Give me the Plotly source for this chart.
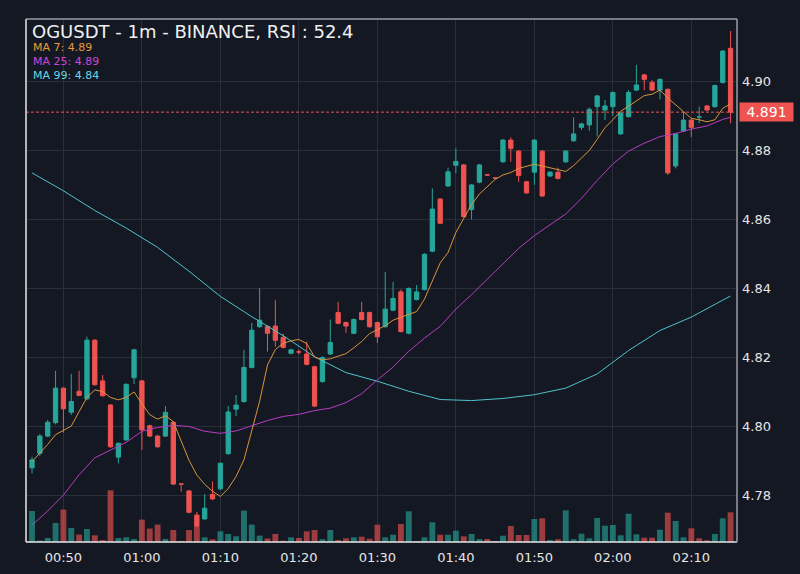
import plotly.graph_objects as go
import pandas as pd

times = pd.date_range("2024-01-01 00:46", periods=90, freq="1min")

opens = [4.7879, 4.7921, 4.7971, 4.8010, 4.8110, 4.8040, 4.8101, 4.8079, 4.8249, 4.8131,
         4.8061, 4.7910, 4.7960, 4.8140, 4.8131, 4.8001, 4.7971, 4.7971, 4.8011, 4.7832,
         4.7812, 4.7742, 4.7731, 4.7802, 4.7818, 4.7920, 4.8049, 4.8071, 4.8170, 4.8288,
         4.8289, 4.8290, 4.8257, 4.8211, 4.8215, 4.8209, 4.8172, 4.8129, 4.8209, 4.8329,
         4.8300, 4.8269, 4.8329, 4.8329, 4.8300, 4.8288, 4.8336, 4.8389, 4.8269, 4.8367,
         4.8396, 4.8507, 4.8658, 4.8696, 4.8756, 4.8757, 4.8628, 4.8707, 4.8728, 4.8719,
         4.8766, 4.8829, 4.8797, 4.8708, 4.8736, 4.8797, 4.8725, 4.8736, 4.8766, 4.8827,
         4.8866, 4.8873, 4.8926, 4.8916, 4.8926, 4.8847, 4.8897, 4.8974, 4.9018, 4.8996,
         4.8974, 4.8976, 4.8754, 4.8855, 4.8887, 4.8896, 4.8928, 4.8926, 4.8996, 4.9095]
highs = [4.7911, 4.7977, 4.8018, 4.8160, 4.8112, 4.8151, 4.8160, 4.8259, 4.8252, 4.8148,
         4.8064, 4.7953, 4.8124, 4.8224, 4.8134, 4.8004, 4.7974, 4.8058, 4.8014, 4.7833,
         4.7815, 4.7751, 4.7803, 4.7839, 4.7895, 4.8058, 4.8090, 4.8221, 4.8299, 4.8400,
         4.8292, 4.8365, 4.8268, 4.8224, 4.8222, 4.8245, 4.8175, 4.8202, 4.8309, 4.8360,
         4.8303, 4.8312, 4.8360, 4.8332, 4.8303, 4.8447, 4.8418, 4.8396, 4.8402, 4.8409,
         4.8501, 4.8689, 4.8661, 4.8749, 4.8805, 4.8760, 4.8702, 4.8760, 4.8730, 4.8721,
         4.8832, 4.8837, 4.8800, 4.8711, 4.8832, 4.8800, 4.8739, 4.8749, 4.8800, 4.8895,
         4.8879, 4.8924, 4.8960, 4.8945, 4.8970, 4.8910, 4.8974, 4.9047, 4.9021, 4.9003,
         4.9008, 4.8979, 4.8850, 4.8911, 4.8890, 4.8926, 4.8931, 4.8990, 4.9090, 4.9145]
lows = [4.7863, 4.7913, 4.7968, 4.8005, 4.7981, 4.8032, 4.8087, 4.8075, 4.8117, 4.8085,
        4.7937, 4.7892, 4.7957, 4.8122, 4.7931, 4.7968, 4.7937, 4.7968, 4.7829, 4.7810,
        4.7747, 4.7707, 4.7728, 4.7786, 4.7815, 4.7917, 4.8029, 4.8068, 4.8167, 4.8285,
        4.8216, 4.8230, 4.8225, 4.8208, 4.8208, 4.8176, 4.8055, 4.8126, 4.8206, 4.8295,
        4.8270, 4.8266, 4.8306, 4.8285, 4.8241, 4.8285, 4.8333, 4.8271, 4.8266, 4.8364,
        4.8393, 4.8504, 4.8585, 4.8693, 4.8733, 4.8604, 4.8599, 4.8704, 4.8726, 4.8717,
        4.8763, 4.8766, 4.8708, 4.8673, 4.8699, 4.8664, 4.8722, 4.8715, 4.8763, 4.8824,
        4.8858, 4.8856, 4.8839, 4.8887, 4.8899, 4.8844, 4.8894, 4.8971, 4.8974, 4.8971,
        4.8947, 4.8728, 4.8747, 4.8852, 4.8838, 4.8878, 4.8913, 4.8923, 4.8993, 4.8878]
closes = [4.7902, 4.7971, 4.8011, 4.8110, 4.8050, 4.8071, 4.8089, 4.8249, 4.8120, 4.8088,
          4.7940, 4.7950, 4.8121, 4.8221, 4.7989, 4.7971, 4.7940, 4.8040, 4.7832, 4.7832,
          4.7750, 4.7710, 4.7762, 4.7789, 4.7892, 4.8041, 4.8061, 4.8170, 4.8278, 4.8307,
          4.8269, 4.8249, 4.8228, 4.8221, 4.8215, 4.8179, 4.8058, 4.8199, 4.8242, 4.8298,
          4.8290, 4.8309, 4.8309, 4.8288, 4.8259, 4.8339, 4.8370, 4.8274, 4.8399, 4.8389,
          4.8498, 4.8629, 4.8588, 4.8737, 4.8767, 4.8607, 4.8699, 4.8757, 4.8728, 4.8719,
          4.8829, 4.8805, 4.8726, 4.8676, 4.8829, 4.8667, 4.8736, 4.8718, 4.8797, 4.8847,
          4.8876, 4.8918, 4.8957, 4.8928, 4.8967, 4.8907, 4.8967, 4.8989, 4.9005, 4.8974,
          4.9005, 4.8734, 4.8847, 4.8887, 4.8866, 4.8896, 4.8916, 4.8987, 4.9087, 4.8910]
volumes = [31000, 1500, 4000, 19000, 32400, 14000, 7400, 13000, 6700, 2000,
           51700, 4000, 4700, 3000, 22400, 13400, 17400, 3000, 12000, 1000,
           12000, 15700, 4700, 2700, 10700, 8000, 5700, 31400, 17400, 6400,
           3500, 8000, 1300, 4700, 4000, 10700, 12000, 2700, 12000, 2000,
           3700, 4700, 5300, 3300, 17300, 4700, 7300, 18000, 30700, 1000,
           4700, 19700, 7300, 7300, 11300, 5700, 8000, 3000, 3000, 1000,
           6300, 16000, 7000, 7000, 23000, 23700, 2000, 2700, 31700, 2700,
           8300, 3700, 24000, 16300, 17000, 6700, 28300, 7700, 4300, 4300,
           12300, 29300, 21000, 4700, 13700, 3700, 1700, 8000, 23700, 29700]

ma7 = [4.7897, 4.7921, 4.7947, 4.7975, 4.7988, 4.8000, 4.8042, 4.8083, 4.8105, 4.8100,
       4.8083, 4.8076, 4.8083, 4.8099, 4.8065, 4.8033, 4.8020, 4.8030, 4.8013, 4.7957,
       4.7901, 4.7858, 4.7831, 4.7811, 4.7796, 4.7819, 4.7854, 4.7902, 4.7984, 4.8072,
       4.8177, 4.8222, 4.8240, 4.8247, 4.8251, 4.8239, 4.8200, 4.8192, 4.8195, 4.8202,
       4.8210, 4.8227, 4.8245, 4.8268, 4.8280, 4.8291, 4.8307, 4.8316, 4.8324, 4.8332,
       4.8368, 4.8421, 4.8473, 4.8503, 4.8561, 4.8602, 4.8642, 4.8673, 4.8694, 4.8715,
       4.8728, 4.8735, 4.8747, 4.8754, 4.8759, 4.8754, 4.8749, 4.8742, 4.8738, 4.8755,
       4.8776, 4.8799, 4.8831, 4.8865, 4.8888, 4.8913, 4.8927, 4.8942, 4.8958, 4.8962,
       4.8974, 4.8951, 4.8932, 4.8911, 4.8892, 4.8888, 4.8882, 4.8888, 4.8921, 4.8934]

ma25_idx = list(range(0, 90, 2)) + [89]
ma25 = [4.7713, 4.7754, 4.7800, 4.7859, 4.7908, 4.7931, 4.7953, 4.7985, 4.7996, 4.8002,
        4.7999, 4.7985, 4.7979, 4.7986, 4.8002, 4.8016, 4.8028, 4.8034, 4.8045, 4.8052,
        4.8068, 4.8094, 4.8134, 4.8171, 4.8217, 4.8255, 4.8289, 4.8339, 4.8381, 4.8426,
        4.8471, 4.8515, 4.8552, 4.8584, 4.8615, 4.8660, 4.8712, 4.8760, 4.8797, 4.8820,
        4.8839, 4.8848, 4.8861, 4.8870, 4.8889, 4.8895]

ma99_idx = list(range(0, 90, 4)) + [89]
ma99 = [4.8734, 4.8682, 4.8625, 4.8574, 4.8518, 4.8449, 4.8376, 4.8317, 4.8262, 4.8201,
        4.8155, 4.8130, 4.8101, 4.8077, 4.8074, 4.8080, 4.8091, 4.8110, 4.8151, 4.8219,
        4.8277, 4.8316, 4.8365, 4.8377]

last_price = 4.891
y_ticks = [4.78, 4.80, 4.82, 4.84, 4.86, 4.88, 4.90]
title_text = "OGUSDT - 1m - BINANCE, RSI : 52.4"
legend_items = [("MA 7: 4.89", "#e89a3c"), ("MA 25: 4.89", "#cc44dd"), ("MA 99: 4.84", "#66d6e0")]

BG = "#141823"
GRID = "#2a2e3a"
UP = "#26a69a"
DOWN = "#ef5350"
UP_VOL = "rgba(38,166,154,0.62)"
DOWN_VOL = "rgba(239,83,80,0.62)"

vol_colors = [UP_VOL if c > o else DOWN_VOL for o, c in zip(opens, closes)]

fig = go.Figure()

fig.add_trace(go.Bar(
    x=times, y=volumes, marker_color=vol_colors, marker_line_width=0,
    width=45000, yaxis="y2", hoverinfo="skip"))

fig.add_trace(go.Candlestick(
    x=times, open=opens, high=highs, low=lows, close=closes,
    increasing=dict(line=dict(color=UP, width=1), fillcolor=UP),
    decreasing=dict(line=dict(color=DOWN, width=1), fillcolor=DOWN),
    whiskerwidth=0))

fig.add_trace(go.Scatter(x=[times[i] for i in ma99_idx], y=ma99, mode="lines",
                         line=dict(color="#4fc3cc", width=1), hoverinfo="skip"))
fig.add_trace(go.Scatter(x=[times[i] for i in ma25_idx], y=ma25, mode="lines",
                         line=dict(color="#b83cc4", width=1), hoverinfo="skip"))
fig.add_trace(go.Scatter(x=times, y=ma7, mode="lines",
                         line=dict(color="#d9953a", width=1), hoverinfo="skip"))

fig.update_layout(
    width=800, height=574,
    margin=dict(l=26, r=63, t=19, b=32, autoexpand=False),
    paper_bgcolor=BG, plot_bgcolor=BG,
    showlegend=False,
    boxgap=0.22,
    font=dict(family="DejaVu Sans", color="#e6e6e6", size=13),
    xaxis=dict(
        type="date",
        range=["2024-01-01 00:45:14", "2024-01-01 02:15:49"],
        tickformat="%H:%M", dtick=600000, tick0="2024-01-01 00:50",
        showgrid=True, gridcolor=GRID, gridwidth=1,
        zeroline=False, showline=False,
        rangeslider=dict(visible=False),
        tickfont=dict(size=13, color="#e6e6e6"),
        ticks="", ticklabelstandoff=6, automargin=False,
    ),
    yaxis=dict(
        side="right",
        range=[4.7664, 4.9180],
        tickvals=y_ticks, ticktext=[f"{v:.2f}" for v in y_ticks],
        showgrid=True, gridcolor=GRID, gridwidth=1,
        zeroline=False, showline=False,
        tickfont=dict(size=13, color="#e6e6e6"),
        ticks="", ticklabelstandoff=4, automargin=False,
    ),
    yaxis2=dict(overlaying="y", range=[0, 523000], visible=False, showgrid=False),
)

shapes = [
    dict(type="line", xref="paper", yref="y", x0=0, x1=1, y0=last_price, y1=last_price,
         line=dict(color=DOWN, width=1, dash="3px,2px")),
    dict(type="line", xref="paper", yref="paper", x0=0, x1=0, y0=0, y1=1,
         line=dict(color="#e8e8e8", width=1.5)),
    dict(type="line", xref="paper", yref="paper", x0=0, x1=1, y0=0, y1=0,
         line=dict(color="#e8e8e8", width=1.5)),
    dict(type="line", xref="paper", yref="paper", x0=0, x1=1, y0=1, y1=1,
         line=dict(color="#9a9ca4", width=1.5)),
    dict(type="line", xref="paper", yref="paper", x0=1, x1=1, y0=0, y1=1,
         line=dict(color="#9a9ca4", width=1.5)),
]
fig.update_layout(shapes=shapes)

annotations = [
    dict(text=title_text, xref="paper", yref="paper", x=0, y=1, xanchor="left", yanchor="middle",
         xshift=5, yshift=-12.5, showarrow=False, height=17, borderpad=0,
         font=dict(size=18, color="#f0f0f0")),
    dict(text=f"{last_price:.3f}", xref="paper", yref="y", x=1, y=last_price,
         xanchor="left", yanchor="middle", xshift=2, showarrow=False,
         bgcolor=DOWN, borderpad=1, width=51,
         font=dict(size=14, color="#ffffff")),
]
for k, (txt, col) in enumerate(legend_items):
    annotations.append(dict(text=txt, xref="paper", yref="paper", x=0, y=1,
                            xanchor="left", yanchor="middle", xshift=6,
                            yshift=-(28 + 14.3 * k), showarrow=False,
                            height=11, borderpad=0,
                            font=dict(size=11, color=col)))
fig.update_layout(annotations=annotations)

fig.write_html("out.html", config={"displayModeBar": False},
               post_script="document.body.style.margin='0';document.body.style.padding='0';")
